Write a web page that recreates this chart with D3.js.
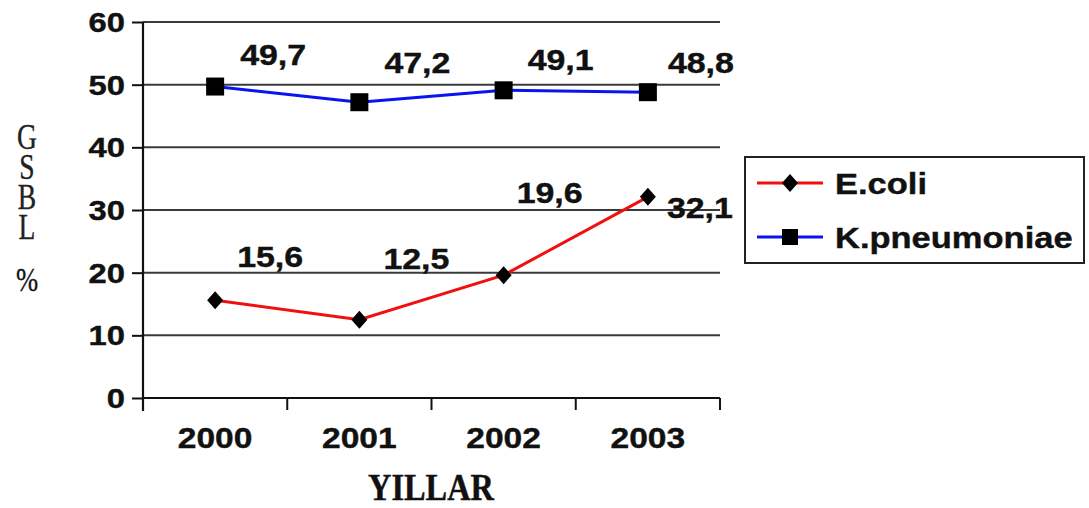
<!DOCTYPE html>
<html>
<head>
<meta charset="utf-8">
<script src="https://cdn.jsdelivr.net/npm/d3@7"></script>
<style>
  html, body { margin: 0; padding: 0; background: #fff; }
  svg { display: block; }
</style>
</head>
<body>
<svg id="chart" width="1089" height="508"></svg>
<script>
// Yearly ESBL rates (%) per organism
const years = ["2000", "2001", "2002", "2003"];
const ecoli = [15.6, 12.5, 19.6, 32.1];
const kpneumoniae = [49.7, 47.2, 49.1, 48.8];
const ecoliLabels = ["15,6", "12,5", "19,6", "32,1"];
const kpneumoniaeLabels = ["49,7", "47,2", "49,1", "48,8"];
const yTicks = [0, 10, 20, 30, 40, 50, 60];
const yTitleWord = "GSBL";
const yTitleUnit = "%";

// label offsets from each point (layout only)
const ecoliLabelOffset = [[22, -33], [24, -51], [13, -72], [19, 21]];
const kpnLabelOffset = [[25, -22], [25, -29], [24, -20], [20, -19]];

const svg = d3.select("#chart");
const SANS = "'Liberation Sans', Arial, Helvetica, sans-serif";
const SERIF = "'Liberation Serif', 'Times New Roman', serif";
const SX = 1.17; // glyph widening used for all sans text

const plot = { left: 143, right: 720, top: 22, bottom: 398 };

const x = d3.scaleBand().domain(years).range([plot.left, plot.right]);
const y = d3.scaleLinear().domain([0, 60]).range([plot.bottom, plot.top]);
const cx = d => x(d) + x.bandwidth() / 2;

function label(g, px, py, txt, opts = {}) {
  return g.append("text")
    .attr("transform", `translate(${px},${py}) scale(${opts.sx || SX},${opts.sy || 1})`)
    .attr("text-anchor", opts.anchor || "start")
    .attr("font-family", opts.family || SANS)
    .attr("font-weight", opts.weight || "bold")
    .attr("font-size", opts.size || 29)
    .attr("fill", "#111")
    .attr("stroke", "#111")
    .attr("stroke-width", opts.stroke || 0.4)
    .text(txt);
}

// horizontal gridlines
svg.append("g").selectAll("line")
  .data(yTicks.filter(v => v > 0))
  .join("line")
  .attr("x1", plot.left).attr("x2", plot.right)
  .attr("y1", d => y(d)).attr("y2", d => y(d))
  .attr("stroke", "#3a3a3a").attr("stroke-width", 2);

// y axis with outward ticks
const yAxis = svg.append("g")
  .attr("transform", `translate(${plot.left},0)`)
  .call(d3.axisLeft(y).tickValues(yTicks).tickSize(11).tickFormat(""));
yAxis.select(".domain").remove();
yAxis.selectAll(".tick line").attr("stroke", "#111").attr("stroke-width", 2);
svg.append("line")
  .attr("x1", plot.left).attr("x2", plot.left)
  .attr("y1", y(60)).attr("y2", plot.bottom + 13)
  .attr("stroke", "#111").attr("stroke-width", 2.2);

const yLab = svg.append("g");
yTicks.forEach(v => label(yLab, 125, y(v) + 10, String(v), { anchor: "end", size: 28 }));

// x axis with ticks at category boundaries
svg.append("line")
  .attr("x1", plot.left).attr("x2", plot.right)
  .attr("y1", plot.bottom).attr("y2", plot.bottom)
  .attr("stroke", "#111").attr("stroke-width", 2.2);
const bounds = years.map(d => x(d)).concat([x(years[years.length - 1]) + x.bandwidth()]);
svg.append("g").selectAll("line")
  .data(bounds.slice(1))
  .join("line")
  .attr("x1", d => d).attr("x2", d => d)
  .attr("y1", plot.bottom).attr("y2", plot.bottom + 12)
  .attr("stroke", "#111").attr("stroke-width", 2);

const xLab = svg.append("g");
years.forEach(d => label(xLab, cx(d), 448, d, { anchor: "middle", size: 30, sx: 1.12 }));

// axis titles
label(svg, 431, 500, "YILLAR", { anchor: "middle", family: SERIF, size: 33, sx: 0.98, sy: 1.12 });

// stacked y title: upright letters in vertical writing mode
svg.append("text")
  .attr("transform", "translate(27,116) scale(0.92,1.2)")
  .style("writing-mode", "vertical-lr")
  .style("text-orientation", "upright")
  .style("letter-spacing", "-8.5px")
  .attr("font-family", SERIF)
  .attr("font-size", 30)
  .attr("fill", "#222")
  .attr("stroke", "#222").attr("stroke-width", 0.3)
  .text(yTitleWord);
label(svg, 27, 291, yTitleUnit, { anchor: "middle", family: SERIF, weight: "normal", size: 28, sx: 0.95, sy: 1.2, stroke: 0.3 });

// series lines
const line = d3.line().x((d, i) => cx(years[i])).y(d => y(d));
svg.append("path").datum(kpneumoniae).attr("d", line)
  .attr("fill", "none").attr("stroke", "#0a14ee").attr("stroke-width", 3);
svg.append("path").datum(ecoli).attr("d", line)
  .attr("fill", "none").attr("stroke", "#f01010").attr("stroke-width", 3);

// markers
const sq = 18;
svg.append("g").selectAll("rect").data(kpneumoniae).join("rect")
  .attr("x", (d, i) => cx(years[i]) - sq / 2).attr("y", d => y(d) - sq / 2)
  .attr("width", sq).attr("height", sq).attr("fill", "#000");
const diamond = "M0,-9L8,0L0,9L-8,0Z";
svg.append("g").selectAll("path").data(ecoli).join("path")
  .attr("d", diamond)
  .attr("transform", (d, i) => `translate(${cx(years[i])},${y(d)})`)
  .attr("fill", "#000");

// value labels
const vl = svg.append("g");
kpneumoniae.forEach((v, i) =>
  label(vl, cx(years[i]) + kpnLabelOffset[i][0], y(v) + kpnLabelOffset[i][1], kpneumoniaeLabels[i]));
ecoli.forEach((v, i) =>
  label(vl, cx(years[i]) + ecoliLabelOffset[i][0], y(v) + ecoliLabelOffset[i][1], ecoliLabels[i]));

// legend
const lg = svg.append("g");
lg.append("rect").attr("x", 745).attr("y", 157).attr("width", 339).attr("height", 106)
  .attr("fill", "#fff").attr("stroke", "#222").attr("stroke-width", 2);
const legendItems = [
  { name: "E.coli", color: "#f01010", marker: "diamond", y: 183 },
  { name: "K.pneumoniae", color: "#0a14ee", marker: "square", y: 237 }
];
legendItems.forEach(it => {
  lg.append("line").attr("x1", 757).attr("x2", 823).attr("y1", it.y).attr("y2", it.y)
    .attr("stroke", it.color).attr("stroke-width", 3);
  if (it.marker === "diamond") {
    lg.append("path").attr("d", diamond).attr("transform", `translate(790,${it.y})`).attr("fill", "#000");
  } else {
    lg.append("rect").attr("x", 790 - 8).attr("y", it.y - 8).attr("width", 16).attr("height", 16).attr("fill", "#000");
  }
  label(lg, 835, it.y + 11, it.name, { size: 30, sx: 1.15 });
});
</script>
</body>
</html>
